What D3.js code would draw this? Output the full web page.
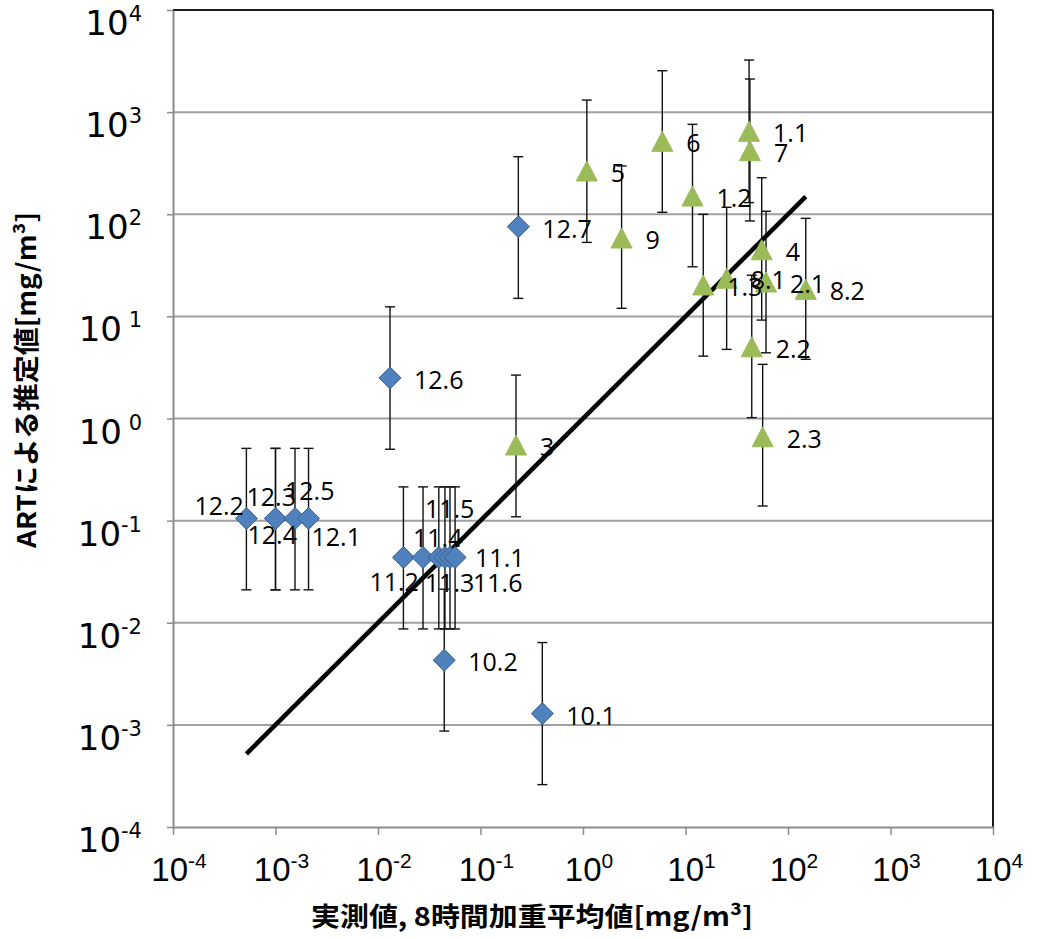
<!DOCTYPE html>
<html>
<head>
<meta charset="utf-8">
<script src="https://cdn.jsdelivr.net/npm/d3@7"></script>
<style>
  body { margin: 0; background: #fff; }
</style>
</head>
<body>
<div id="chart"></div>
<script>
// ART estimate vs measured (8h TWA), log-log, with error bars

// blue diamonds (cases 10-12)
const blueIds = ["12.2", "12.3", "12.4", "12.5", "12.1",
  "11.2", "11.4", "11.3", "11.5", "11.6", "11.1",
  "10.2", "10.1", "12.6", "12.7"];
const blueX = [5.2e-4, 1.0e-3, 1.0e-3, 1.55e-3, 2.1e-3,
  0.0177, 0.0275, 0.0392, 0.045, 0.0504, 0.0565,
  0.0443, 0.401, 0.0131, 0.234];
const blueY = [0.105, 0.105, 0.105, 0.105, 0.105,
  0.0436, 0.0436, 0.0436, 0.0436, 0.0436, 0.0436,
  0.0043, 0.00129, 2.5, 75.5];
const blueLo = [0.021, 0.021, 0.021, 0.021, 0.021,
  0.0087, 0.0087, 0.0087, 0.0087, 0.0087, 0.0087,
  8.7e-4, 2.6e-4, 0.50, 15.0];
const blueHi = [0.51, 0.51, 0.51, 0.51, 0.51,
  0.214, 0.214, 0.214, 0.214, 0.214, 0.214,
  0.0213, 0.0064, 12.4, 366];

// green triangles (cases 1-9)
const greenIds = ["1.1", "1.2", "1.3", "2.1", "2.2", "2.3", "3", "4", "5", "6", "7", "8.1", "8.2", "9"];
const greenX = [41.7, 11.7, 14.9, 61, 44.3, 56.6, 0.222, 55.4, 1.09, 5.94, 42.5, 25.2, 149, 2.38];
const greenY = [649, 150.6, 20.3, 21.7, 5.03, 0.662, 0.55, 44.9, 265, 518, 419, 23.6, 18.4, 58.5];
const greenLo = [130, 30.6, 4.08, 4.4, 1.02, 0.139, 0.109, 9.2, 53, 104.5, 86, 4.75, 3.8, 12.0];
const greenHi = [3236, 759, 99.8, 107, 25.3, 3.39, 2.66, 228, 1312, 2543, 2109, 117, 91.2, 297];

// axis ticks (decades) and their exponent labels
const tickValues = [1e-4, 1e-3, 1e-2, 1e-1, 1e0, 1e1, 1e2, 1e3, 1e4];
const xTickExp = ["-4", "-3", "-2", "-1", "0", "1", "2", "3", "4"];
const yTickExp = ["-4", "-3", "-2", "-1", " 0", " 1", "2", "3", "4"];

const xTitle = "実測値, 8時間加重平均値[mg/m³]";
const yTitle = "ARTによる推定値[mg/m³]";

// label placement: default is right of the marker; crowded ones moved
const labelDefault = [24, 2];
const labelNudge = {
  "12.2": [-52, -12], "12.3": [-29, -21], "12.4": [-28, 17],
  "12.5": [-10, -27], "12.1": [3, 19],
  "11.2": [-34, 25], "11.4": [-10, -19], "11.3": [-14, 26],
  "11.5": [-20, -48], "11.6": [23, 26], "11.1": [20, 1]
};

const width = 1049, height = 939;
const margin = { left: 173, right: 56, top: 10, bottom: 112 };

const svg = d3.select("#chart").append("svg")
  .attr("width", width)
  .attr("height", height);

const x = d3.scaleLog().domain([1e-4, 1e4]).range([margin.left, width - margin.right]);
const y = d3.scaleLog().domain([1e-4, 1e4]).range([height - margin.bottom, margin.top]);

const blue = blueIds.map((id, i) => ({ id, x: blueX[i], y: blueY[i], lo: blueLo[i], hi: blueHi[i] }));
const green = greenIds.map((id, i) => ({ id, x: greenX[i], y: greenY[i], lo: greenLo[i], hi: greenHi[i] }));
const all = blue.concat(green);

// gridlines
svg.append("g")
  .selectAll("line")
  .data(tickValues.slice(1, -1))
  .join("line")
  .attr("x1", x(1e-4)).attr("x2", x(1e4))
  .attr("y1", d => y(d)).attr("y2", d => y(d))
  .attr("stroke", "#a0a0a0")
  .attr("stroke-width", 2);

// frame: top and right dark, left and bottom grey axes
svg.append("line")
  .attr("x1", x(1e-4)).attr("x2", x(1e4))
  .attr("y1", y(1e4)).attr("y2", y(1e4))
  .attr("stroke", "#1a1a1a").attr("stroke-width", 2);
svg.append("line")
  .attr("x1", x(1e4)).attr("x2", x(1e4))
  .attr("y1", y(1e4)).attr("y2", y(1e-4))
  .attr("stroke", "#1a1a1a").attr("stroke-width", 2);

const xAxis = svg.append("g")
  .attr("transform", `translate(0,${y(1e-4)})`)
  .call(d3.axisBottom(x).tickValues(tickValues).tickSize(8).tickSizeOuter(0).tickFormat(""));
const yAxis = svg.append("g")
  .attr("transform", `translate(${x(1e-4)},0)`)
  .call(d3.axisLeft(y).tickValues(tickValues).tickSize(6).tickSizeOuter(0).tickFormat(""));
[xAxis, yAxis].forEach(g => {
  g.select(".domain").attr("stroke", "#8c8c8c").attr("stroke-width", 2);
  g.selectAll(".tick line").attr("stroke", "#8c8c8c").attr("stroke-width", 1.5);
});

// x tick labels (narrow font)
const xLab = svg.append("g")
  .selectAll("text")
  .data(tickValues)
  .join("text")
  .attr("x", d => x(d) + 6)
  .attr("y", y(1e-4) + 54)
  .attr("text-anchor", "middle")
  .attr("font-family", "'Liberation Sans Narrow', 'Arial Narrow', 'Liberation Sans', sans-serif")
  .attr("font-size", 33)
  .attr("fill", "#000");
xLab.append("tspan").text("10");
xLab.append("tspan")
  .attr("dy", -13)
  .attr("font-size", 21)
  .text((d, i) => xTickExp[i]);

// y tick labels (wide font)
const yLab = svg.append("g")
  .selectAll("text")
  .data(tickValues)
  .join("text")
  .attr("x", 142)
  .attr("y", d => y(d) + 25)
  .attr("text-anchor", "end")
  .attr("font-family", "'DejaVu Sans', sans-serif")
  .attr("font-size", 34)
  .attr("fill", "#000");
yLab.append("tspan").text("10");
yLab.append("tspan")
  .attr("dy", -14)
  .attr("font-size", 21)
  .attr("xml:space", "preserve")
  .text((d, i) => yTickExp[i]);

// axis titles
svg.append("text")
  .attr("x", 532)
  .attr("y", 926)
  .attr("text-anchor", "middle")
  .attr("font-family", "'Noto Sans CJK JP', sans-serif")
  .attr("font-weight", "bold")
  .attr("font-size", 26)
  .attr("textLength", 442)
  .attr("lengthAdjust", "spacingAndGlyphs")
  .text(xTitle);

svg.append("text")
  .attr("transform", "translate(36,380) rotate(-90)")
  .attr("text-anchor", "middle")
  .attr("font-family", "'Noto Sans CJK JP', sans-serif")
  .attr("font-weight", "bold")
  .attr("font-size", 26)
  .attr("textLength", 336)
  .attr("lengthAdjust", "spacingAndGlyphs")
  .text(yTitle);

// 1:1 line across the data range
const xr = d3.extent(all, d => d.x);
svg.append("line")
  .attr("x1", x(xr[0])).attr("y1", y(xr[0]))
  .attr("x2", x(xr[1])).attr("y2", y(xr[1]))
  .attr("stroke", "#000")
  .attr("stroke-width", 4.5);

// error bars
const err = svg.append("g")
  .attr("stroke", "#111")
  .attr("stroke-width", 1.4)
  .selectAll("g")
  .data(all)
  .join("g");
err.append("line")
  .attr("x1", d => x(d.x)).attr("x2", d => x(d.x))
  .attr("y1", d => y(d.lo)).attr("y2", d => y(d.hi));
err.append("line")
  .attr("x1", d => x(d.x) - 5).attr("x2", d => x(d.x) + 5)
  .attr("y1", d => y(d.lo)).attr("y2", d => y(d.lo));
err.append("line")
  .attr("x1", d => x(d.x) - 5).attr("x2", d => x(d.x) + 5)
  .attr("y1", d => y(d.hi)).attr("y2", d => y(d.hi));

// markers
svg.append("g")
  .selectAll("path")
  .data(blue)
  .join("path")
  .attr("d", "M0,-11L11,0L0,11L-11,0Z")
  .attr("transform", d => `translate(${x(d.x)},${y(d.y)})`)
  .attr("fill", "#4f81bd")
  .attr("stroke", "#385d8a")
  .attr("stroke-width", 1);

svg.append("g")
  .selectAll("path")
  .data(green)
  .join("path")
  .attr("d", "M0,-10L10.5,10L-10.5,10Z")
  .attr("transform", d => `translate(${x(d.x)},${y(d.y)})`)
  .attr("fill", "#9bbb59")
  .attr("stroke", "#9bbb59")
  .attr("stroke-width", 1);

// data labels
svg.append("g")
  .selectAll("text")
  .data(all)
  .join("text")
  .attr("x", d => x(d.x) + (labelNudge[d.id] || labelDefault)[0])
  .attr("y", d => y(d.y) + (labelNudge[d.id] || labelDefault)[1])
  .attr("dy", "0.36em")
  .attr("font-family", "'Open Sans', sans-serif")
  .attr("font-size", 25)
  .attr("fill", "#000")
  .text(d => d.id);
</script>
</body>
</html>
